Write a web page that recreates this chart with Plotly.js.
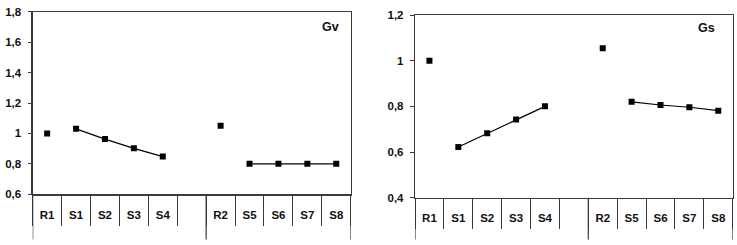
<!DOCTYPE html>
<html><head><meta charset="utf-8">
<script src="https://cdn.plot.ly/plotly-3.0.1.min.js"></script>
<style>html,body{margin:0;padding:0;background:#fff}#chart{width:737px;height:245px}</style>
</head><body><div id="chart"></div>
<script>
const categories = ["R1","S1","S2","S3","S4"," ","R2","S5","S6","S7","S8"];
const refCats = ["R1","R2"];
const groupACats = ["S1","S2","S3","S4"];
const groupBCats = ["S5","S6","S7","S8"];
const gvRef = [1.0, 1.05];
const gvA = [1.03, 0.963, 0.902, 0.848];
const gvB = [0.80, 0.80, 0.80, 0.80];
const gsRef = [1.0, 1.054];
const gsA = [0.622, 0.682, 0.742, 0.80];
const gsB = [0.82, 0.806, 0.796, 0.781];
const gvTicks = [0.6,0.8,1,1.2,1.4,1.6,1.8];
const gsTicks = [0.4,0.6,0.8,1,1.2];
const panelLabels = ["Gv","Gs"];

const W=737,H=245;
const fontFam = '"Liberation Sans", Arial, sans-serif';
const axCol = '#3a3a3a';
const tf = {family:fontFam, size:11.5, color:'#111', weight:700};
const mk = {symbol:'square', size:6, color:'#000'};
const ln = {color:'#000', width:1.2};

function traces(xa, xl, ya, ref, a, b){
  return [
    {x:categories, y:categories.map(()=>null), xaxis:xa, yaxis:ya, mode:'markers', showlegend:false, hoverinfo:'skip'},
    {x:categories, y:categories.map(()=>null), xaxis:xl, yaxis:ya, mode:'markers', showlegend:false, hoverinfo:'skip'},
    {x:refCats, y:ref, xaxis:xa, yaxis:ya, mode:'markers', marker:mk, showlegend:false},
    {x:groupACats, y:a, xaxis:xa, yaxis:ya, mode:'lines+markers', marker:mk, line:ln, showlegend:false},
    {x:groupBCats, y:b, xaxis:xa, yaxis:ya, mode:'lines+markers', marker:mk, line:ln, showlegend:false},
  ];
}
const data = traces('x','x3','y', gvRef, gvA, gvB).concat(traces('x2','x4','y2', gsRef, gsA, gsB));

function xax(domain, anchor){
  return {domain, anchor, type:'category', range:[-0.5, categories.length-0.5],
    showline:true, mirror:true, linecolor:axCol, linewidth:1.2,
    showgrid:false, zeroline:false, ticks:'outside', tickson:'boundaries',
    ticklen:30, tickwidth:1, tickcolor:axCol, showticklabels:false, fixedrange:true};
}
function xlab(over, anchor){
  return {overlaying:over, anchor, type:'category', range:[-0.5, categories.length-0.5],
    showline:false, showgrid:false, zeroline:false, ticks:'', side:'bottom',
    ticklabelstandoff:12, tickfont:tf, fixedrange:true};
}
function yax(domain, anchor, ticks){
  return {domain, anchor, range:[ticks[0], ticks[ticks.length-1]],
    tickvals:ticks, showline:true, mirror:true, linecolor:axCol, linewidth:1.2,
    showgrid:false, zeroline:false, ticks:'outside', ticklen:4, tickcolor:axCol,
    ticklabelstandoff:4, tickfont:tf, fixedrange:true};
}
const x1d=[32.7/W, 350.7/W], x2d=[415/W, 732.7/W];
const y1d=[1-194.3/H, 1-11.7/H], y2d=[1-197.7/H, 1-15/H];
const sepIdx = [-0.5, categories.indexOf(" ")+0.5, categories.length-0.5];
const shapes = [];
[['x', y1d[0]], ['x2', y2d[0]]].forEach(([xr, yb])=>{
  sepIdx.forEach(v=>shapes.push({type:'line', xref:xr, yref:'paper', x0:v, x1:v, y0:yb, y1:1-239.5/H, line:{color:axCol, width:1.2}}));
});
const layout = {
  width:W, height:H, margin:{l:0,r:0,t:0,b:0}, paper_bgcolor:'#fff', plot_bgcolor:'#fff',
  separators:',.', showlegend:false,
  xaxis:xax(x1d,'y'), yaxis:yax(y1d,'x',gvTicks),
  xaxis2:xax(x2d,'y2'), yaxis2:yax(y2d,'x2',gsTicks),
  xaxis3:xlab('x','y'), xaxis4:xlab('x2','y2'),
  shapes,
  annotations:[
    {text:panelLabels[0], xref:'paper', yref:'paper', x:330/W, y:1-26.7/H, showarrow:false, xanchor:'center', yanchor:'middle', font:{family:fontFam, size:12.5, color:'#111', weight:700}},
    {text:panelLabels[1], xref:'paper', yref:'paper', x:706/W, y:1-28.3/H, showarrow:false, xanchor:'center', yanchor:'middle', font:{family:fontFam, size:12.5, color:'#111', weight:700}}
  ]
};
Plotly.newPlot('chart', data, layout, {displayModeBar:false, staticPlot:true});
</script></body></html>
